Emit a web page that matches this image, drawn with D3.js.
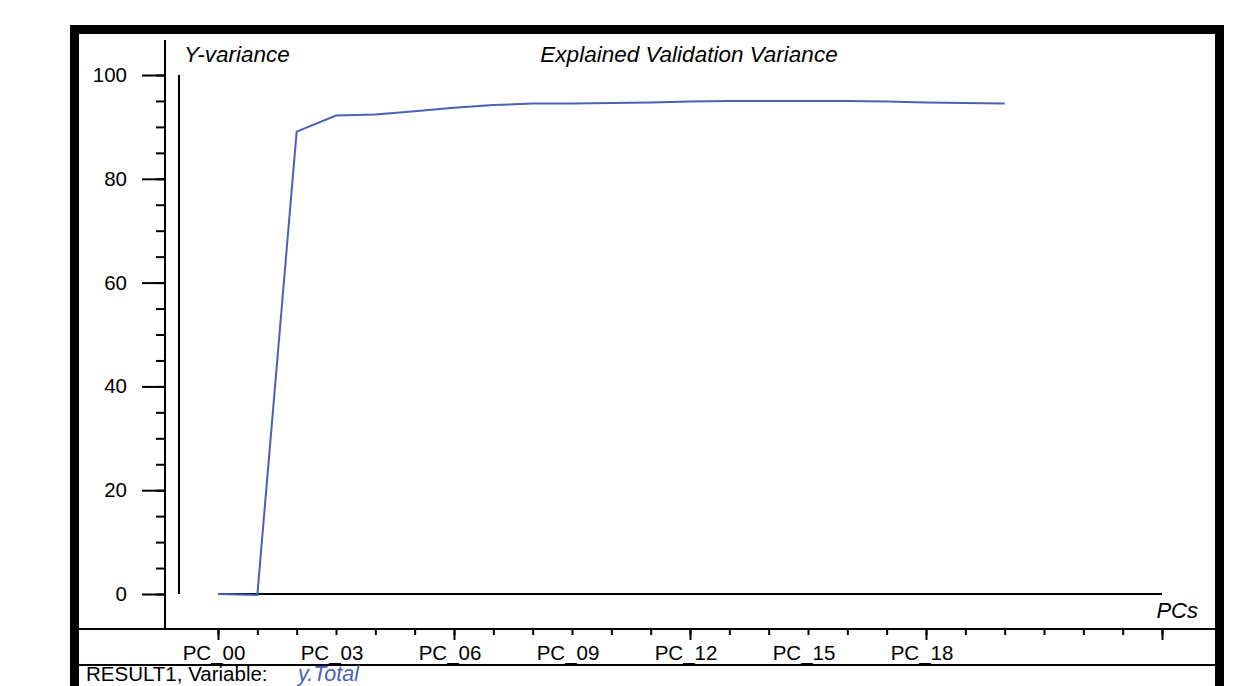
<!DOCTYPE html>
<html>
<head>
<meta charset="utf-8">
<script src="https://cdn.jsdelivr.net/npm/d3@7"></script>
<style>
  body { margin: 0; background: #fff; }
  svg { display: block; font-family: "Liberation Sans", Arial, sans-serif; }
</style>
</head>
<body>
<svg></svg>
<script>
var components = d3.range(25).map(function(i) { return "PC_" + (i < 10 ? "0" + i : i); });
var variance = [0, -0.2, 89.1, 92.2, 92.4, 93.0, 93.7, 94.2, 94.5, 94.5, 94.6, 94.7,
                94.9, 95.0, 95.0, 95.0, 95.0, 94.9, 94.7, 94.6, 94.5];
var xLabels = ["PC_00", "PC_03", "PC_06", "PC_09", "PC_12", "PC_15", "PC_18"];
var xLong = ["PC_00", "PC_06", "PC_12", "PC_18", "PC_24"];
var yMajor = [0, 20, 40, 60, 80, 100];
var yMinor = d3.range(0, 101, 5);

var svgWidth = 1248, svgHeight = 686;

var svg = d3.select("svg")
            .attr("width", svgWidth)
            .attr("height", svgHeight);

var x = d3.scalePoint().domain(components).range([218, 1162]);
var y = d3.scaleLinear().domain([0, 100]).range([594, 75]);

// frame
svg.append("rect")
   .attr("x", 74.5).attr("y", 29.5)
   .attr("width", 1145).attr("height", 720)
   .attr("fill", "none").attr("stroke", "#000").attr("stroke-width", 9);

// y axis: minor then major ticks
svg.append("g")
   .attr("transform", "translate(165,0)")
   .call(d3.axisLeft(y).tickValues(yMinor).tickSize(9).tickFormat(""))
   .call(function(g) { g.select(".domain").remove(); })
   .selectAll("line").attr("stroke-width", 2);

var yAxis = svg.append("g")
   .attr("transform", "translate(165,0)")
   .call(d3.axisLeft(y).tickValues(yMajor).tickSize(23).tickPadding(15))
   .call(function(g) { g.select(".domain").remove(); });
yAxis.selectAll("line").attr("stroke-width", 2);
yAxis.selectAll("text").attr("font-size", 20.5).attr("fill", "#000")
     .attr("font-family", "'Liberation Sans', Arial, sans-serif");

svg.append("line")
   .attr("x1", 165).attr("x2", 165).attr("y1", 40).attr("y2", 630)
   .attr("stroke", "#000").attr("stroke-width", 2);

// inner vertical bar next to axis
svg.append("line")
   .attr("x1", 179).attr("x2", 179).attr("y1", y(100)).attr("y2", y(0))
   .attr("stroke", "#000").attr("stroke-width", 2);

// x axis band lines
svg.append("line")
   .attr("x1", 79).attr("x2", 1215).attr("y1", 629).attr("y2", 629)
   .attr("stroke", "#000").attr("stroke-width", 2);
svg.append("line")
   .attr("x1", 79).attr("x2", 1215).attr("y1", 665).attr("y2", 665)
   .attr("stroke", "#000").attr("stroke-width", 2);

var xMinor = svg.append("g")
   .attr("transform", "translate(0,629)")
   .call(d3.axisBottom(x).tickSize(6).tickFormat(""))
   .call(function(g) { g.select(".domain").remove(); });
xMinor.selectAll("line").attr("stroke-width", 2);

var xMajor = svg.append("g")
   .attr("transform", "translate(0,629)")
   .call(d3.axisBottom(x).tickValues(xLong).tickSize(11).tickFormat(""))
   .call(function(g) { g.select(".domain").remove(); });
xMajor.selectAll("line").attr("stroke-width", 2);

svg.selectAll(".xlabel")
   .data(xLabels)
   .enter()
   .append("text")
   .attr("class", "xlabel")
   .attr("x", function(d) { return x(d) - 4; })
   .attr("y", 660)
   .attr("text-anchor", "middle")
   .attr("font-size", 20.5)
   .text(function(d) { return d; });

// zero line
svg.append("line")
   .attr("x1", x("PC_00")).attr("x2", x("PC_24")).attr("y1", y(0)).attr("y2", y(0))
   .attr("stroke", "#000").attr("stroke-width", 2);

// data line
var line = d3.line()
             .x(function(d, i) { return x(components[i]); })
             .y(function(d) { return y(d); });

svg.append("path")
   .datum(variance)
   .attr("d", line)
   .attr("fill", "none")
   .attr("stroke", "#4a62b6")
   .attr("stroke-width", 2);

// titles
svg.append("text")
   .attr("x", 184).attr("y", 62)
   .attr("font-size", 22.5).attr("font-style", "italic")
   .text("Y-variance");

svg.append("text")
   .attr("x", 689).attr("y", 62)
   .attr("text-anchor", "middle")
   .attr("font-size", 22.5).attr("font-style", "italic")
   .text("Explained Validation Variance");

svg.append("text")
   .attr("x", 1198).attr("y", 618)
   .attr("text-anchor", "end")
   .attr("font-size", 22).attr("font-style", "italic")
   .text("PCs");

// footer (raised a little so descenders stay inside the picture)
svg.append("text")
   .attr("x", 86).attr("y", 681)
   .attr("font-size", 20.5)
   .text("RESULT1, Variable:");

svg.append("text")
   .attr("x", 298).attr("y", 681)
   .attr("font-size", 21.5).attr("font-style", "italic")
   .attr("fill", "#4a62b6")
   .text("y.Total");
</script>
</body>
</html>
